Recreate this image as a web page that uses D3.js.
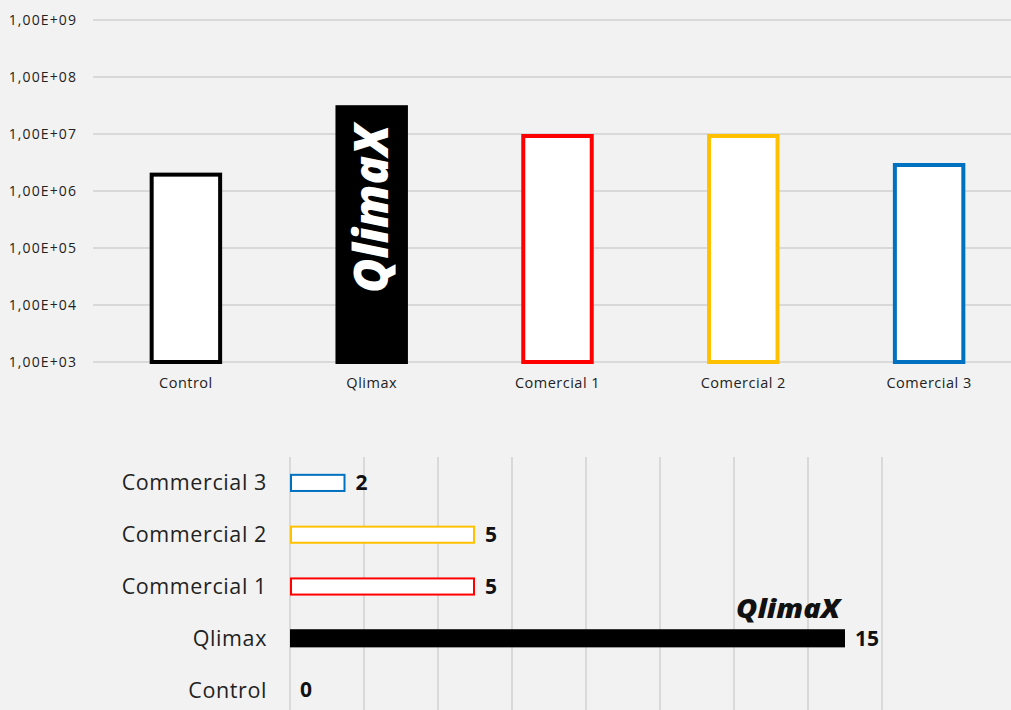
<!DOCTYPE html>
<html>
<head>
<script src="https://d3js.org/d3.v7.min.js"></script>
<style>
  body { margin: 0; background: #f2f2f2; }
  svg { display: block; font-family: 'Open Sans', sans-serif; }
  .grid line { stroke: #d9d9d9; stroke-width: 2; }
  .axis text { fill: #222; }
</style>
</head>
<body>
<svg id="chart" width="1011" height="710"></svg>
<script>
// top chart: counts on log scale
var topCategories = ["Control", "Qlimax", "Comercial 1", "Comercial 2", "Comercial 3"];
var topValues = [2.1e6, 3.2e7, 1.0e7, 1.0e7, 3.1e6];
var topTicks = [1e3, 1e4, 1e5, 1e6, 1e7, 1e8, 1e9];

// bottom chart: horizontal bars
var bottomCategories = ["Commercial 3", "Commercial 2", "Commercial 1", "Qlimax", "Control"];
var bottomValues = [1.5, 5, 5, 15, 0];
var bottomTicks = [0, 2, 4, 6, 8, 10, 12, 14, 16];

var colors = ["#000000", "#000000", "#ff0000", "#ffc000", "#0070c0"];
var bottomColors = ["#0070c0", "#ffc000", "#ff0000", "#000000", "#000000"];

var svg = d3.select("#chart");

// ---- top chart
var x1 = d3.scaleBand().domain(topCategories).range([93, 1022]).paddingInner(0.61).paddingOuter(0.305);
var y1 = d3.scaleLog().domain([1e3, 1e9]).range([362, 20]);

function sciFmt(v) {
  var s = d3.format(".2e")(v); // 1.00e+9
  var parts = s.split("e");
  var exp = parts[1];
  var sign = exp[0];
  var num = exp.slice(1);
  if (num.length < 2) num = "0" + num;
  return parts[0].replace(".", ",") + "E" + sign + num;
}

var g1 = svg.append("g");
g1.append("g").attr("class", "grid")
  .selectAll("line").data(topTicks).enter().append("line")
  .attr("x1", 93).attr("x2", 1011)
  .attr("y1", function(d) { return y1(d); })
  .attr("y2", function(d) { return y1(d); });

g1.append("g").attr("class", "axis")
  .selectAll("text").data(topTicks).enter().append("text")
  .attr("x", 77).attr("y", function(d) { return y1(d); })
  .attr("dy", "0.35em").attr("text-anchor", "end")
  .style("font-size", "14px").style("letter-spacing", "1.1px")
  .text(sciFmt);

var sw = 4;
g1.selectAll(".tbar").data(topValues).enter().append("rect")
  .attr("class", "tbar")
  .attr("x", function(d, i) { return x1(topCategories[i]) + sw / 2; })
  .attr("width", x1.bandwidth() - sw)
  .attr("y", function(d) { return y1(d) + sw / 2; })
  .attr("height", function(d) { return y1(1e3) - y1(d) - sw / 2; })
  .attr("fill", function(d, i) { return i == 1 ? "#000" : "#fff"; })
  .attr("stroke", function(d, i) { return i == 1 ? "#000" : colors[i]; })
  .attr("stroke-width", sw);

g1.append("g").attr("class", "axis")
  .selectAll("text").data(topCategories).enter().append("text")
  .attr("x", function(d) { return x1(d) + x1.bandwidth() / 2; })
  .attr("y", 383).attr("dy", "0.35em").attr("text-anchor", "middle")
  .style("font-size", "14.5px").style("letter-spacing", "0.5px")
  .text(function(d) { return d; });

// logo inside the Qlimax bar
var qx = x1("Qlimax") + x1.bandwidth() / 2;
g1.append("text")
  .attr("transform", "translate(" + (qx + 16) + "," + 209 + ") rotate(-90)")
  .attr("text-anchor", "middle")
  .attr("fill", "#fff")
  .style("font-size", "48px").style("font-weight", "800").style("font-style", "italic")
  .attr("textLength", 168).attr("lengthAdjust", "spacingAndGlyphs")
  .text("QlimaX");

// ---- bottom chart
var x2 = d3.scaleLinear().domain([0, 16]).range([290, 882]);
var y2 = d3.scaleBand().domain(bottomCategories).range([457, 716]).paddingInner(0.65).paddingOuter(0.325);

var g2 = svg.append("g");
g2.append("g").attr("class", "grid")
  .selectAll("line").data(bottomTicks).enter().append("line")
  .attr("x1", function(d) { return x2(d); })
  .attr("x2", function(d) { return x2(d); })
  .attr("y1", 457).attr("y2", 710);

g2.append("g").attr("class", "axis")
  .selectAll("text").data(bottomCategories).enter().append("text")
  .attr("x", 267).attr("y", function(d) { return y2(d) + y2.bandwidth() / 2; })
  .attr("dy", "0.35em").attr("text-anchor", "end")
  .style("font-size", "21.5px").style("letter-spacing", "0.6px")
  .text(function(d) { return d; });

var bw = 2;
g2.selectAll(".hbar").data(bottomValues).enter().append("rect")
  .attr("class", "hbar")
  .attr("x", x2(0) + bw / 2)
  .attr("y", function(d, i) { return y2(bottomCategories[i]) + bw / 2; })
  .attr("width", function(d) { return Math.max(0, x2(d) - x2(0) - bw); })
  .attr("height", y2.bandwidth() - bw)
  .attr("fill", function(d, i) { return bottomCategories[i] == "Qlimax" ? "#000" : "#fff"; })
  .attr("stroke", function(d, i) { return bottomColors[i]; })
  .attr("stroke-width", bw)
  .attr("display", function(d) { return d > 0 ? null : "none"; });

var valFmt = d3.format(".0f");
g2.selectAll(".val").data(bottomValues).enter().append("text")
  .attr("class", "val")
  .attr("x", function(d) { return x2(d) + 10; })
  .attr("y", function(d, i) { return y2(bottomCategories[i]) + y2.bandwidth() / 2; })
  .attr("dy", "0.35em")
  .style("font-size", "21px").style("font-weight", "bold")
  .attr("fill", "#111")
  .text(valFmt);

// logo above the Qlimax bar
g2.append("text")
  .attr("x", x2(15) - 5).attr("y", y2("Qlimax") - 11)
  .attr("text-anchor", "end")
  .attr("fill", "#111")
  .style("font-size", "26px").style("font-weight", "800").style("font-style", "italic")
  .attr("textLength", 104).attr("lengthAdjust", "spacingAndGlyphs")
  .text("QlimaX");
</script>
</body>
</html>
